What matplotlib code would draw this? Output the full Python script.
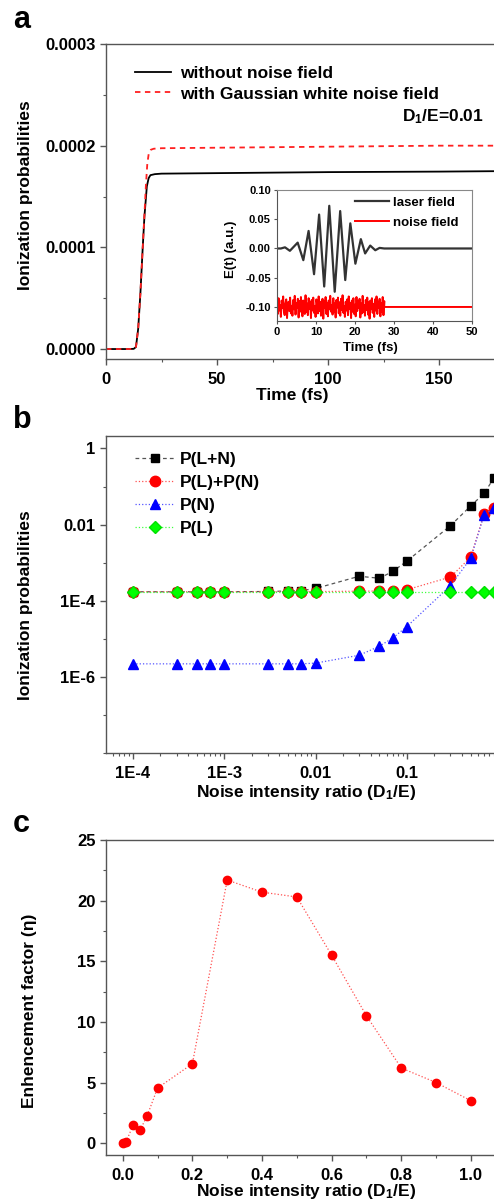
import numpy as np
import matplotlib
matplotlib.use('Agg')
import matplotlib.pyplot as plt
from matplotlib.ticker import MultipleLocator, FormatStrFormatter, NullFormatter, LogLocator

plt.rcParams['font.family'] = ['Liberation Sans', 'DejaVu Sans']
plt.rcParams['font.weight'] = 'bold'
plt.rcParams['axes.labelweight'] = 'bold'
plt.rcParams['mathtext.fontset'] = 'custom'
plt.rcParams['mathtext.rm'] = 'Liberation Sans:bold'
plt.rcParams['mathtext.it'] = 'Liberation Sans:bold'
plt.rcParams['mathtext.bf'] = 'Liberation Sans:bold'
plt.rcParams['mathtext.default'] = 'regular'

# ---- panel a : ionization probability vs time
t_no = [0, 10, 12.5, 13.5, 14.5, 15.5, 16.5, 17.3, 18.4, 19.2, 20, 22, 25, 50, 100, 150, 180]
p_no = [0, 0, 0.002e-4, 0.02e-4, 0.2e-4, 0.55e-4, 0.98e-4, 1.3e-4, 1.6e-4, 1.68e-4, 1.71e-4,
        1.72e-4, 1.725e-4, 1.73e-4, 1.74e-4, 1.745e-4, 1.75e-4]
t_gn = [0, 10, 12.5, 13.5, 14.5, 15.5, 16.5, 17.3, 18.0, 18.6, 19.3, 20.2, 21.5, 25, 50, 100, 150, 180]
p_gn = [0, 0, 0.002e-4, 0.02e-4, 0.2e-4, 0.55e-4, 0.98e-4, 1.32e-4, 1.62e-4, 1.82e-4, 1.93e-4,
        1.96e-4, 1.97e-4, 1.975e-4, 1.98e-4, 1.99e-4, 2.0e-4, 2.0e-4]

# inset: laser field (extrema) and noise field
laser_t = [0, 1.0, 2.05, 3.3, 5.3, 6.75, 8.1, 9.5, 10.8, 12.1, 13.4, 14.8, 16.2, 17.5,
           18.8, 20.1, 21.5, 22.6, 23.9, 25.2, 26.3, 27.5, 50]
laser_e = [0, 0, 0.002, -0.004, 0.010, -0.020, 0.030, -0.044, 0.058, -0.065, 0.073, -0.074,
           0.064, -0.054, 0.043, -0.026, 0.016, -0.0085, 0.005, -0.003, 0.001, 0, 0]
noise_dev = [8, -12, 15, -6, 3, -17, 11, -2, 18, -9, -14, 6, 13, -19, 4, 9, -7, 16, -11, 2,
             -15, 12, -4, 19, -13, 7, -1, 14, -18, 10, -8, 17, -5, -16, 11, 3, -12, 20, -9, 6,
             -14, 15, -3, 8, -19, 12, -6, 16, -10, 1, -17, 13, 5, -11, 18, -7, 9, -15, 4, 14,
             -20, 10, -2, 17, -12, 7, -16, 11, -4, 19, -8, 3, -13, 15, -9, 6, -18, 12, -1, 16,
             -11, 8, -15, 14, -5, 20, -10, 2, -17, 9, -6, 13, -14, 18, -3, 7, -19, 11, -8, 15,
             -12, 4, -16, 17, -7, 10, -2, 14, -18, 6, -11, 19, -9, 3, -15, 12, -5, 16, -13, 8,
             -20, 11, -4, 15, -10, 5, -17, 13, -6, 18, -12, 9, -1, 14, -16, 7, -8, 17, -14, 10]
noise_end = 27.5
noise_offset = -0.1

# ---- panel b : probabilities vs noise ratio
ratio_b = [1e-4, 3e-4, 5e-4, 7e-4, 1e-3, 3e-3, 5e-3, 7e-3, 0.01, 0.03, 0.05, 0.07, 0.1,
           0.3, 0.5, 0.7, 0.9]
p_ln = [1.72e-4, 1.72e-4, 1.72e-4, 1.72e-4, 1.72e-4, 1.75e-4, 1.8e-4, 1.85e-4, 2.1e-4,
        4.4e-4, 3.9e-4, 5.9e-4, 1.1e-3, 9.4e-3, 0.031, 0.066, 0.17]
p_l_plus_n = [1.72e-4, 1.72e-4, 1.72e-4, 1.72e-4, 1.72e-4, 1.72e-4, 1.73e-4, 1.73e-4, 1.74e-4,
              1.78e-4, 1.8e-4, 1.85e-4, 1.95e-4, 4.2e-4, 1.4e-3, 0.019, 0.028]
p_n = [2.2e-6, 2.2e-6, 2.2e-6, 2.2e-6, 2.2e-6, 2.2e-6, 2.2e-6, 2.2e-6, 2.3e-6,
       3.7e-6, 6.4e-6, 1.05e-5, 2.1e-5, 2.5e-4, 1.3e-3, 0.018, 0.027]
p_l = [1.72e-4] * len(ratio_b)

# ---- panel c : enhancement factor
ratio_c = [0.0, 0.01, 0.03, 0.05, 0.07, 0.1, 0.2, 0.3, 0.4, 0.5, 0.6, 0.7, 0.8, 0.9, 1.0]
eta = [0.0, 0.14, 1.5, 1.1, 2.25, 4.55, 6.55, 21.7, 20.7, 20.3, 15.5, 10.5, 6.2, 5.0, 3.5]

W, H = 494, 1203
fig = plt.figure(figsize=(W / 100, H / 100), dpi=100)
spine_c = '#555555'


def px_axes(l, t, r, b):
    return fig.add_axes([l / W, 1 - b / H, (r - l) / W, (b - t) / H])


def style(ax, fs=12, ln=4, lw=1.0):
    for s in ax.spines.values():
        s.set_color(spine_c)
        s.set_linewidth(lw)
    ax.tick_params(which='major', direction='out', length=ln, width=lw, color=spine_c,
                   labelsize=fs, top=False, right=False)
    ax.tick_params(which='minor', direction='out', length=ln * 0.6, width=lw * 0.8,
                   color=spine_c, top=False, right=False)


# panel a
ax = px_axes(106, 44, 550, 359)
style(ax)
ax.plot(t_no, p_no, color='black', lw=1.3, label='without noise field')
ax.plot(t_gn, p_gn, color='#ff2020', lw=1.3, dashes=(3, 2.5), label='with Gaussian white noise field')
ax.set_xlim(0, 200)
ax.set_ylim(-0.0000098, 0.0003)
ax.set_xticks([0, 50, 100, 150])
ax.xaxis.set_minor_locator(MultipleLocator(25))
ax.yaxis.set_major_locator(MultipleLocator(0.0001))
ax.yaxis.set_minor_locator(MultipleLocator(0.00005))
ax.yaxis.set_major_formatter(FormatStrFormatter('%.4f'))
ax.tick_params(axis='x', pad=5)
ax.set_xlabel('Time (fs)', fontsize=12.5)
ax.xaxis.set_label_coords(0.419, -0.092)
ax.xaxis.label.set_va('top')
ax.set_ylabel('Ionization probabilities', fontsize=12.5)
ax.yaxis.set_label_coords(-0.164, 0.52)
ax.legend(loc='upper left', bbox_to_anchor=(0.065, 0.93), frameon=False, fontsize=12.5,
          handlelength=2.1, handletextpad=0.5, labelspacing=0.3, borderpad=0, borderaxespad=0)
fig.text(402 / W, 1 - 117 / H, 'D$_1$/E=0.01', fontsize=12.5, va='center', ha='left')
fig.text(13 / W, 1 - 28 / H, 'a', fontsize=22, fontweight='bold', va='baseline')

# inset
axi = px_axes(277, 190, 472, 321)
style(axi, fs=8, ln=2.5, lw=0.8)
for s in ['top', 'right']:
    axi.spines[s].set_color('#888888')
nt = np.linspace(0, noise_end, len(noise_dev))
axi.plot(laser_t, laser_e, color='#333333', lw=1.6, label='laser field')
axi.plot(list(nt) + [noise_end, 50], [noise_offset + d / 1000 for d in noise_dev] + [noise_offset] * 2,
         color='#ff0000', lw=1.4, label='noise field')
axi.set_xlim(0, 50)
axi.set_ylim(-0.124, 0.10)
axi.xaxis.set_major_locator(MultipleLocator(10))
axi.yaxis.set_major_locator(MultipleLocator(0.05))
axi.yaxis.set_major_formatter(FormatStrFormatter('%.2f'))
axi.tick_params(pad=2)
axi.set_xlabel('Time (fs)', fontsize=9.5)
axi.xaxis.set_label_coords(0.477, -0.158)
axi.xaxis.label.set_va('top')
axi.set_ylabel('E(t) (a.u.)', fontsize=9.5)
axi.yaxis.set_label_coords(-0.205, 0.55)
axi.legend(loc='upper left', bbox_to_anchor=(0.40, 0.95), frameon=False, fontsize=9.5,
           handlelength=2.6, handletextpad=0.25, labelspacing=0.6, borderpad=0, borderaxespad=0)

# panel b
ax = px_axes(106, 436, 525.7, 753)
style(ax)
ax.set_xscale('log')
ax.set_yscale('log')
ax.plot(ratio_b, p_ln, color='#555555', lw=0.9, dashes=(3, 2.5), marker='s', ms=6.2,
        mfc='black', mec='black', label='P(L+N)')
ax.plot(ratio_b, p_l_plus_n, color='#ff5050', lw=0.9, ls=':', marker='o', ms=7.5,
        mfc='#ff0000', mec='#ff0000', label='P(L)+P(N)')
ax.plot(ratio_b, p_n, color='#5555ff', lw=0.9, ls=':', marker='^', ms=7.5,
        mfc='#0000ff', mec='#0000ff', label='P(N)')
ax.plot(ratio_b, p_l, color='#40ff40', lw=0.9, ls=':', marker='D', ms=6.5,
        mfc='#00ff00', mec='#00e000', label='P(L)')
ax.set_xlim(5.06e-5, 2)
ax.set_ylim(2.15e-8, 2.13)
ax.set_xticks([1e-4, 1e-3, 1e-2, 1e-1])
ax.set_xticklabels(['1E-4', '1E-3', '0.01', '0.1'])
ax.xaxis.set_minor_locator(LogLocator(base=10, subs=np.arange(2, 10)))
ax.xaxis.set_minor_formatter(NullFormatter())
ax.set_yticks([1e-6, 1e-4, 1e-2, 1])
ax.set_yticklabels(['1E-6', '1E-4', '0.01', '1'])
ax.set_yticks([1e-8, 1e-7, 1e-5, 1e-3, 1e-1], minor=True)
ax.yaxis.set_minor_formatter(NullFormatter())
ax.tick_params(axis='x', pad=5)
ax.set_xlabel('Noise intensity ratio (D$_1$/E)', fontsize=12.5)
ax.xaxis.set_label_coords(0.4765, -0.0946)
ax.xaxis.label.set_va('top')
ax.set_ylabel('Ionization probabilities', fontsize=12.5)
ax.yaxis.set_label_coords(-0.174, 0.467)
ax.legend(loc='upper left', bbox_to_anchor=(0.068, 0.95), frameon=False, fontsize=12.5,
          numpoints=1, handlelength=2.3, handletextpad=0.3, labelspacing=0.45,
          borderpad=0, borderaxespad=0)
fig.text(13 / W, 1 - 428 / H, 'b', fontsize=22, fontweight='bold', va='baseline')

# panel c
ax = px_axes(106, 840, 505.8, 1155)
style(ax)
ax.plot(ratio_c, eta, color='#ff5050', lw=0.9, ls=':', marker='o', ms=6,
        mfc='#ff0000', mec='#ff0000')
ax.set_xlim(-0.048, 1.1)
ax.set_ylim(-0.97, 25)
ax.set_xticks([0.0, 0.2, 0.4, 0.6, 0.8, 1.0])
ax.xaxis.set_minor_locator(MultipleLocator(0.1))
ax.xaxis.set_major_formatter(FormatStrFormatter('%.1f'))
ax.yaxis.set_major_locator(MultipleLocator(5))
ax.yaxis.set_minor_locator(MultipleLocator(2.5))
ax.tick_params(axis='x', pad=5)
ax.set_xlabel('Noise intensity ratio (D$_1$/E)', fontsize=12.5)
ax.xaxis.set_label_coords(0.50, -0.085)
ax.xaxis.label.set_va('top')
ax.set_ylabel('Enhencement factor (\u03b7)', fontsize=12.5)
ax.yaxis.set_label_coords(-0.173, 0.458)
fig.text(13 / W, 1 - 832 / H, 'c', fontsize=22, fontweight='bold', va='baseline')

fig.savefig('out.png', dpi=100)
